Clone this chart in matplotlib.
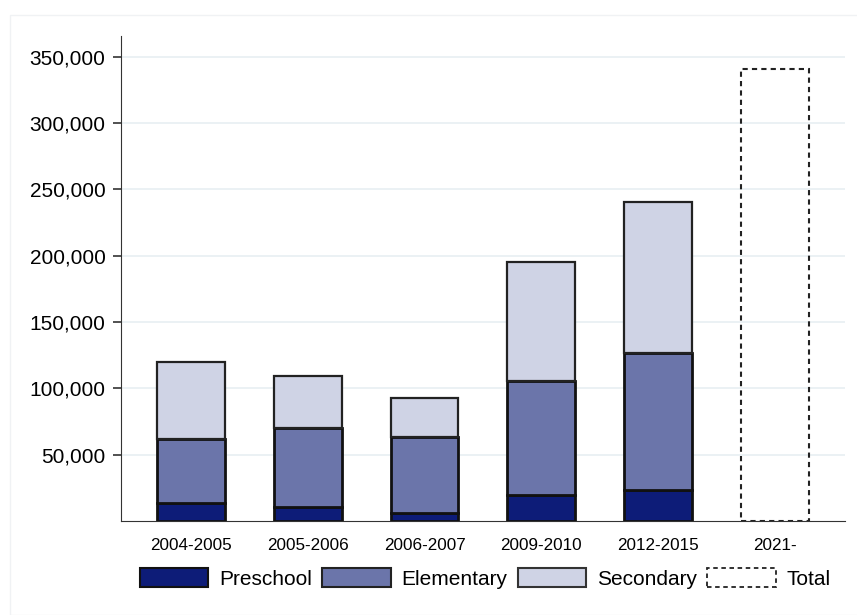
import numpy as np
import matplotlib
matplotlib.use("Agg")
import matplotlib.pyplot as plt
from matplotlib.patches import Rectangle, Patch
from matplotlib.ticker import FuncFormatter

plt.rcParams["font.family"] = ["Liberation Sans", "DejaVu Sans"]

# data
years = ["2004-2005", "2005-2006", "2006-2007", "2009-2010", "2012-2015"]
preschool = [13600, 10600, 6000, 19600, 23400]
elementary = [48300, 59600, 57400, 86100, 103500]
secondary = [58200, 39300, 29500, 89200, 113300]
total_label = "2021-"
total_value = 341000

c_pre = "#0d1c78"
c_elem = "#6b75aa"
c_sec = "#cfd3e5"

fig = plt.figure(figsize=(8.57, 6.15), dpi=100)
# faint frame around the figure
fig.patches.append(Rectangle((0.012, 0.0), 0.99, 0.976, transform=fig.transFigure,
                             fill=False, edgecolor="#f0f2f4", linewidth=1))
ax = fig.add_axes([0.141, 0.153, 0.845, 0.788])

x = np.arange(len(years))
w = 0.58
ax.bar(x, preschool, w, color=c_pre, edgecolor="#111111", linewidth=2.0, zorder=3)
ax.bar(x, elementary, w, bottom=preschool, color=c_elem, edgecolor="#111111", linewidth=2.0, zorder=3)
bot2 = np.array(preschool) + np.array(elementary)
ax.bar(x, secondary, w, bottom=bot2, color=c_sec, edgecolor="#222222", linewidth=1.6, zorder=3)

# total bar (dashed outline only)
ax.bar([len(years)], [total_value], w, fill=False, edgecolor="#222222",
       linestyle=(0, (2.5, 2)), linewidth=1.5, zorder=3)

ax.set_xlim(-0.6, len(years) + 0.6)
ax.set_ylim(0, 365500)
ax.set_yticks(np.arange(50000, 350001, 50000))
ax.yaxis.set_major_formatter(FuncFormatter(lambda v, p: f"{int(v):,}"))
ax.set_xticks(list(x) + [len(years)])
ax.set_xticklabels(years + [total_label])

ax.grid(axis="y", color="#e8eff2", linewidth=1.2, zorder=0)
ax.spines["top"].set_visible(False)
ax.spines["right"].set_visible(False)
ax.spines["left"].set_color("#333333")
ax.spines["bottom"].set_color("#333333")
ax.tick_params(axis="y", labelsize=15, length=6, width=1.2, color="#333333", pad=5)
ax.tick_params(axis="x", labelsize=12.3, length=0, pad=12)

handles = [
    Patch(facecolor=c_pre, edgecolor="#111111", linewidth=1.5),
    Patch(facecolor=c_elem, edgecolor="#222222", linewidth=1.5),
    Patch(facecolor=c_sec, edgecolor="#333333", linewidth=1.5),
    Patch(facecolor="none", edgecolor="#222222", linewidth=1.3, linestyle=(0, (2.5, 2))),
]
fig.legend(handles, ["Preschool", "Elementary", "Secondary", "Total"],
           loc="center", bbox_to_anchor=(0.566, 0.059), ncol=4, frameon=False,
           fontsize=15, handlelength=3.3, handleheight=1.0, handletextpad=0.5,
           columnspacing=0.5)

fig.savefig("out.png", dpi=100)
